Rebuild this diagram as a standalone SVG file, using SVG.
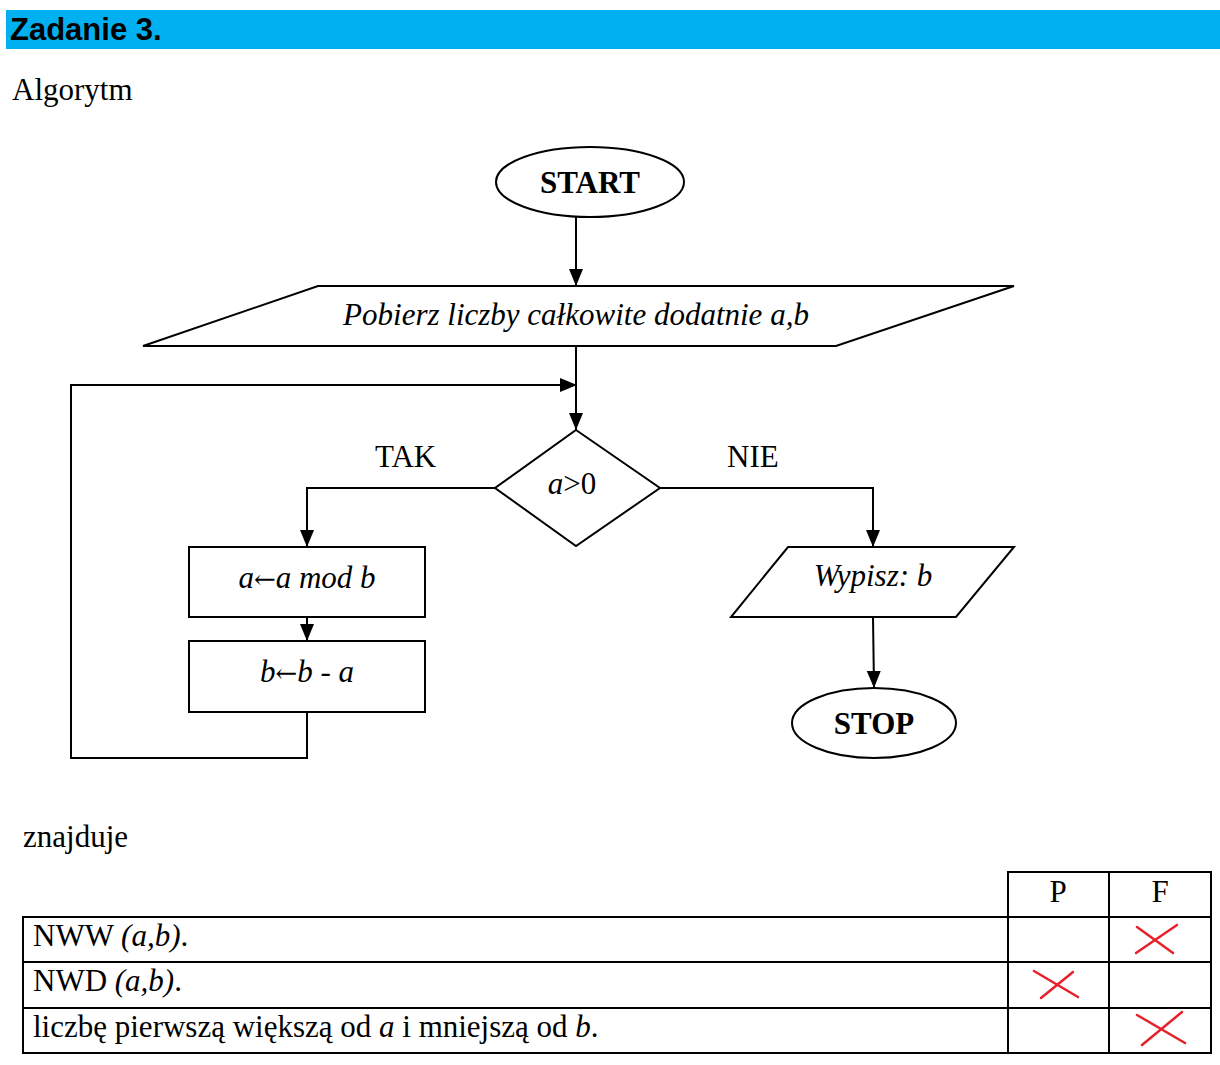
<svg xmlns="http://www.w3.org/2000/svg" width="1220" height="1065" viewBox="0 0 1220 1065">
<style>
.s{fill:#fff;stroke:#000;stroke-width:2}
.c{fill:none;stroke:#000;stroke-width:2}
.t{font-family:"Liberation Serif","Times New Roman",serif;font-size:31px;fill:#000}
.i{font-style:italic}
.b{font-weight:bold}
.m{text-anchor:middle}
.ar{font-family:"DejaVu Serif",serif;font-style:normal;font-size:26px}
.x{fill:none;stroke:#e8202a;stroke-width:2.5;stroke-linecap:round}
.g{fill:none;stroke:#000;stroke-width:2}
</style>
<defs>
<marker id="ar" markerUnits="userSpaceOnUse" markerWidth="18" markerHeight="16" refX="17" refY="7" orient="auto">
<path d="M0,0 L17,7 L0,14 Z" fill="#000"/>
</marker>
</defs>
<rect x="6" y="10" width="1214" height="39" fill="#00b0f0"/>
<text x="10" y="40" font-family="'Liberation Sans',Arial,sans-serif" font-weight="bold" font-size="31" fill="#000">Zadanie 3.</text>
<text class="t" x="12" y="100">Algorytm</text>

<g id="connectors">
<line class="c" x1="576" y1="217" x2="576" y2="286" marker-end="url(#ar)"/>
<line class="c" x1="576" y1="346" x2="576" y2="430" marker-end="url(#ar)"/>
<polyline class="c" points="495,488 307,488 307,547" marker-end="url(#ar)"/>
<line class="c" x1="307" y1="617" x2="307" y2="641" marker-end="url(#ar)"/>
<polyline class="c" points="307,712 307,758 71,758 71,385 577,385" marker-end="url(#ar)"/>
<polyline class="c" points="660,488 873,488 873,547" marker-end="url(#ar)"/>
<line class="c" x1="873" y1="617" x2="874" y2="688" marker-end="url(#ar)"/>
<text class="t" x="375" y="467">TAK</text>
<text class="t" x="727" y="467">NIE</text>
</g>

<g id="start">
<ellipse class="s" cx="590" cy="182" rx="94" ry="35"/>
<text class="t b m" x="590" y="193">START</text>
</g>
<g id="input">
<polygon class="s" points="318,286 1014,286 836,346 143,346"/>
<text class="t i m" x="576" y="325">Pobierz liczby całkowite dodatnie a,b</text>
</g>
<g id="decision">
<polygon class="s" points="576,430 660,488 576,546 495,488"/>
<text class="t m" x="572" y="494"><tspan class="i">a</tspan>&gt;0</text>
</g>
<g id="mod">
<rect class="s" x="189" y="547" width="236" height="70"/>
<text class="t i m" x="307" y="588">a<tspan class="ar">←</tspan>a mod b</text>
</g>
<g id="sub">
<rect class="s" x="189" y="641" width="236" height="71"/>
<text class="t m" x="307" y="682"><tspan class="i">b</tspan><tspan class="ar">←</tspan><tspan class="i">b</tspan> - <tspan class="i">a</tspan></text>
</g>
<g id="output">
<polygon class="s" points="788,547 1014,547 956,617 731,617"/>
<text class="t i m" x="873" y="586">Wypisz: b</text>
</g>
<g id="stop">
<ellipse class="s" cx="874" cy="723" rx="82" ry="35"/>
<text class="t b m" x="874" y="734">STOP</text>
</g>

<text class="t" x="23" y="847">znajduje</text>

<g id="table">
<rect class="g" x="1008" y="872" width="203" height="45"/>
<line class="g" x1="1109" y1="872" x2="1109" y2="1053"/>
<line class="g" x1="1008" y1="917" x2="1008" y2="1053"/>
<rect class="g" x="23" y="917" width="1188" height="136"/>
<line class="g" x1="23" y1="962" x2="1211" y2="962"/>
<line class="g" x1="23" y1="1008" x2="1211" y2="1008"/>
<text class="t m" x="1058" y="902">P</text>
<text class="t m" x="1160" y="902">F</text>
<text class="t" x="33" y="946">NWW <tspan class="i">(a,b)</tspan>.</text>
<text class="t" x="33" y="991">NWD <tspan class="i">(a,b)</tspan>.</text>
<text class="t" x="33" y="1037">liczbę pierwszą większą od <tspan class="i">a</tspan> i mniejszą od <tspan class="i">b</tspan>.</text>
<path class="x" d="M1136,953 L1177,925 M1137,927 L1173,953"/>
<path class="x" d="M1041,998 L1073,972 M1034,971 L1078,997"/>
<path class="x" d="M1142,1045 L1182,1012 M1137,1015 L1185,1043"/>
</g>
</svg>
